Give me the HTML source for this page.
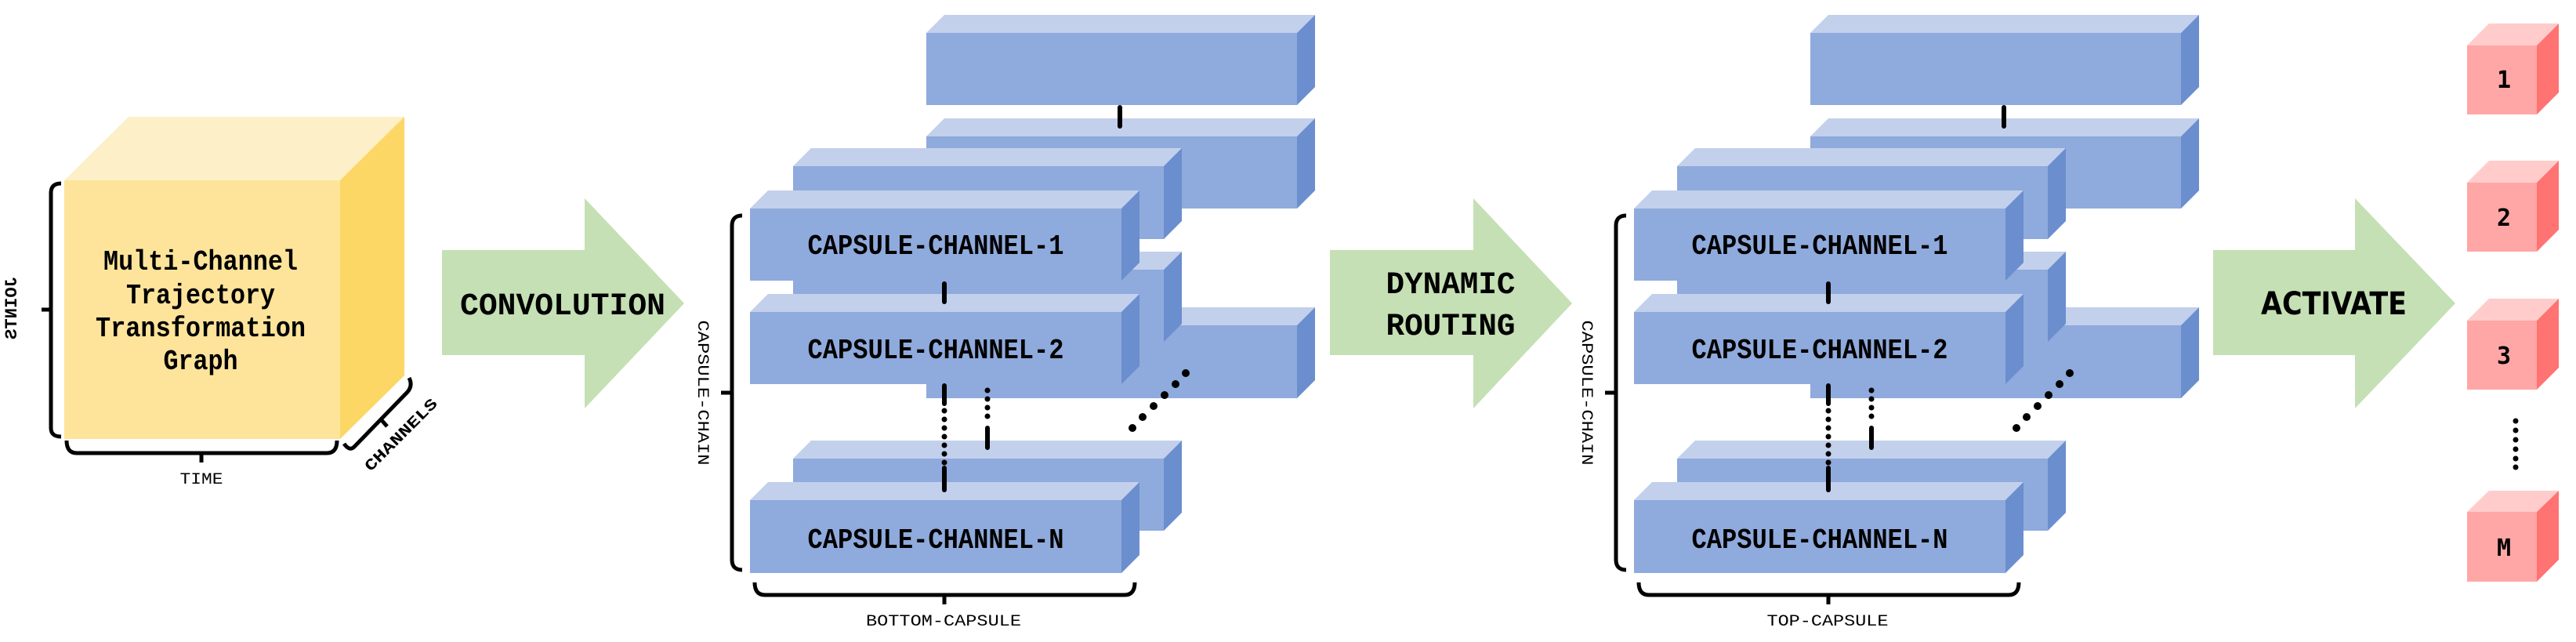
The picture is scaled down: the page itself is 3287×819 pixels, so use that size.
<!DOCTYPE html>
<html><head><meta charset="utf-8"><style>html,body{margin:0;padding:0;background:#fff}svg{display:block}</style></head>
<body>
<svg width="3287" height="819" viewBox="0 0 3287 819" xmlns="http://www.w3.org/2000/svg" font-family="Liberation Mono, DejaVu Sans Mono, monospace" font-weight="bold">
<!-- Yellow cube -->
<polygon points="82,230 164,149 516,149 434,230" fill="#fdf0c8"/>
<polygon points="434,230 516,149 516,479 434,560" fill="#fcd766"/>
<rect x="82" y="230" width="352" height="330" fill="#fde49a"/>
<g font-size="36" text-anchor="middle">
<text x="256" y="344" textLength="248" lengthAdjust="spacingAndGlyphs">Multi-Channel</text>
<text x="256" y="387" textLength="190" lengthAdjust="spacingAndGlyphs">Trajectory</text>
<text x="256" y="429" textLength="268" lengthAdjust="spacingAndGlyphs">Transformation</text>
<text x="256" y="471" textLength="95" lengthAdjust="spacingAndGlyphs">Graph</text>
</g>
<g fill="none" stroke="#000" stroke-width="5">
<path d="M78,234 Q65,234 65,246 L65,546 Q65,557 78,557"/>
<path d="M65,395 L53,395"/>
<path d="M85,562 Q85,578 98,578 L417,578 Q430,578 430,562"/>
<path d="M257,578 L257,590"/>
<path d="M439,566 Q446,576 452,570 L520,500 Q527,492 522,482"/>
<path d="M486,535 L494,544"/>
</g>
<g font-size="20" font-weight="normal" text-anchor="middle">
<text x="0" y="0" font-weight="bold" font-size="22" transform="translate(21,393) rotate(90) scale(1,-1)" textLength="80" lengthAdjust="spacingAndGlyphs">JOINTS</text>
<text x="257" y="617" textLength="55" lengthAdjust="spacingAndGlyphs">TIME</text>
<text x="0" y="0" font-weight="bold" transform="translate(516,559) rotate(-45)" textLength="122" lengthAdjust="spacingAndGlyphs">CHANNELS</text>
</g>
<!-- Arrows -->
<g fill="#c5e0b4">
<polygon points="564,319 746,319 746,253 873,387 746,521 746,453 564,453"/>
<polygon points="1697,319 1880,319 1880,253 2006,387 1880,521 1880,453 1697,453"/>
<polygon points="2824,319 3005,319 3005,253 3133,387 3005,521 3005,453 2824,453"/>
</g>
<g font-size="40" text-anchor="middle">
<text x="718" y="401" textLength="262" lengthAdjust="spacingAndGlyphs">CONVOLUTION</text>
<text x="1851" y="374" textLength="165" lengthAdjust="spacingAndGlyphs">DYNAMIC</text>
<text x="1851" y="427" textLength="165" lengthAdjust="spacingAndGlyphs">ROUTING</text>
<text x="2978" y="401" textLength="186" lengthAdjust="spacingAndGlyphs" font-family="DejaVu Sans, Liberation Sans, sans-serif">ACTIVATE</text>
</g>
<!-- Capsule groups -->
<g id="grp">
<g>
<polygon points="1182,42 1205,19 1678,19 1655,42" fill="#c3d0ec"/><polygon points="1655,42 1678,19 1678,111 1655,134" fill="#6b8ece"/><rect x="1182" y="42" width="473" height="92" fill="#8faadc"/>
<polygon points="1182,174 1205,151 1678,151 1655,174" fill="#c3d0ec"/><polygon points="1655,174 1678,151 1678,243 1655,266" fill="#6b8ece"/><rect x="1182" y="174" width="473" height="92" fill="#8faadc"/>
<polygon points="1182,415 1205,392 1678,392 1655,415" fill="#c3d0ec"/><polygon points="1655,415 1678,392 1678,485 1655,508" fill="#6b8ece"/><rect x="1182" y="415" width="473" height="93" fill="#8faadc"/>
<polygon points="1012,212 1035,189 1508,189 1485,212" fill="#c3d0ec"/><polygon points="1485,212 1508,189 1508,282 1485,305" fill="#6b8ece"/><rect x="1012" y="212" width="473" height="93" fill="#8faadc"/>
<polygon points="1012,344 1035,321 1508,321 1485,344" fill="#c3d0ec"/><polygon points="1485,344 1508,321 1508,413 1485,436" fill="#6b8ece"/><rect x="1012" y="344" width="473" height="92" fill="#8faadc"/>
<polygon points="1012,585 1035,562 1508,562 1485,585" fill="#c3d0ec"/><polygon points="1485,585 1508,562 1508,654 1485,677" fill="#6b8ece"/><rect x="1012" y="585" width="473" height="92" fill="#8faadc"/>
<polygon points="957,266 980,243 1454,243 1431,266" fill="#c3d0ec"/><polygon points="1431,266 1454,243 1454,335 1431,358" fill="#6b8ece"/><rect x="957" y="266" width="474" height="92" fill="#8faadc"/>
<polygon points="957,398 980,375 1454,375 1431,398" fill="#c3d0ec"/><polygon points="1431,398 1454,375 1454,467 1431,490" fill="#6b8ece"/><rect x="957" y="398" width="474" height="92" fill="#8faadc"/>
<polygon points="957,638 980,615 1454,615 1431,638" fill="#c3d0ec"/><polygon points="1431,638 1454,615 1454,708 1431,731" fill="#6b8ece"/><rect x="957" y="638" width="474" height="93" fill="#8faadc"/>
</g>
<g font-size="36" text-anchor="middle">
<text x="1194" y="324" textLength="327" lengthAdjust="spacingAndGlyphs">CAPSULE-CHANNEL-1</text>
<text x="1194" y="457" textLength="327" lengthAdjust="spacingAndGlyphs">CAPSULE-CHANNEL-2</text>
<text x="1194" y="699" textLength="327" lengthAdjust="spacingAndGlyphs">CAPSULE-CHANNEL-N</text>
</g>
<g stroke="#000" stroke-width="6" stroke-linecap="round" fill="none">
<path d="M1429,137 L1429,161"/>
<path d="M1205,362 L1205,385"/>
<path d="M1205,492 L1205,515"/>
<path d="M1205,597 L1205,625"/>
<path d="M1260,546 L1260,571"/>
</g>
<g fill="#000">
<circle cx="1205" cy="524" r="3.5"/><circle cx="1205" cy="535" r="3.5"/><circle cx="1205" cy="546" r="3.5"/><circle cx="1205" cy="557" r="3.5"/><circle cx="1205" cy="568" r="3.5"/><circle cx="1205" cy="579" r="3.5"/><circle cx="1205" cy="590" r="3.5"/>
<circle cx="1260" cy="498" r="3.5"/><circle cx="1260" cy="509" r="3.5"/><circle cx="1260" cy="520" r="3.5"/><circle cx="1260" cy="531" r="3.5"/>
<circle cx="1445" cy="546" r="5"/><circle cx="1458" cy="532" r="5"/><circle cx="1472" cy="518" r="5"/><circle cx="1486" cy="504" r="5"/><circle cx="1500" cy="490" r="5"/><circle cx="1513" cy="476" r="5"/>
</g>
<g fill="none" stroke="#000" stroke-width="5">
<path d="M947,275 Q934,275 934,288 L934,714 Q934,727 947,727"/>
<path d="M934,501 L920,501"/>
<path d="M963,743 Q963,759 976,759 L1435,759 Q1448,759 1448,743"/>
<path d="M1205,759 L1205,771"/>
</g>
</g>
<g font-size="20" font-weight="normal" text-anchor="middle">
<text x="0" y="0" transform="translate(891,501) rotate(90)" textLength="185" lengthAdjust="spacingAndGlyphs">CAPSULE-CHAIN</text>
<text x="1204" y="798" textLength="198" lengthAdjust="spacingAndGlyphs">BOTTOM-CAPSULE</text>
<text x="0" y="0" transform="translate(2019,501) rotate(90)" textLength="185" lengthAdjust="spacingAndGlyphs">CAPSULE-CHAIN</text>
<text x="2332" y="798" textLength="155" lengthAdjust="spacingAndGlyphs">TOP-CAPSULE</text>
</g>
<use href="#grp" transform="translate(1128,0)"/>
<!-- Red boxes -->
<g>
<polygon points="3148,58 3176,30 3265,30 3237,58" fill="#ffcccb"/><polygon points="3237,58 3265,30 3265,118 3237,146" fill="#ff7373"/><rect x="3148" y="58" width="89" height="88" fill="#ffa7a6"/>
<polygon points="3148,233 3176,205 3265,205 3237,233" fill="#ffcccb"/><polygon points="3237,233 3265,205 3265,293 3237,321" fill="#ff7373"/><rect x="3148" y="233" width="89" height="88" fill="#ffa7a6"/>
<polygon points="3148,409 3176,381 3265,381 3237,409" fill="#ffcccb"/><polygon points="3237,409 3265,381 3265,469 3237,497" fill="#ff7373"/><rect x="3148" y="409" width="89" height="88" fill="#ffa7a6"/>
<polygon points="3148,653 3176,626 3265,626 3237,653" fill="#ffcccb"/><polygon points="3237,653 3265,626 3265,714 3237,742" fill="#ff7373"/><rect x="3148" y="653" width="89" height="89" fill="#ffa7a6"/>
</g>
<g font-size="30" text-anchor="middle" font-family="DejaVu Sans Mono, Liberation Mono, monospace">
<text x="3195" y="112">1</text>
<text x="3195" y="288">2</text>
<text x="3195" y="464">3</text>
<text x="3195" y="709">M</text>
</g>
<g fill="#000">
<circle cx="3210" cy="537" r="3.5"/><circle cx="3210" cy="549" r="3.5"/><circle cx="3210" cy="561" r="3.5"/><circle cx="3210" cy="573" r="3.5"/><circle cx="3210" cy="585" r="3.5"/><circle cx="3210" cy="596" r="3.5"/>
</g>
</svg>
</body></html>
